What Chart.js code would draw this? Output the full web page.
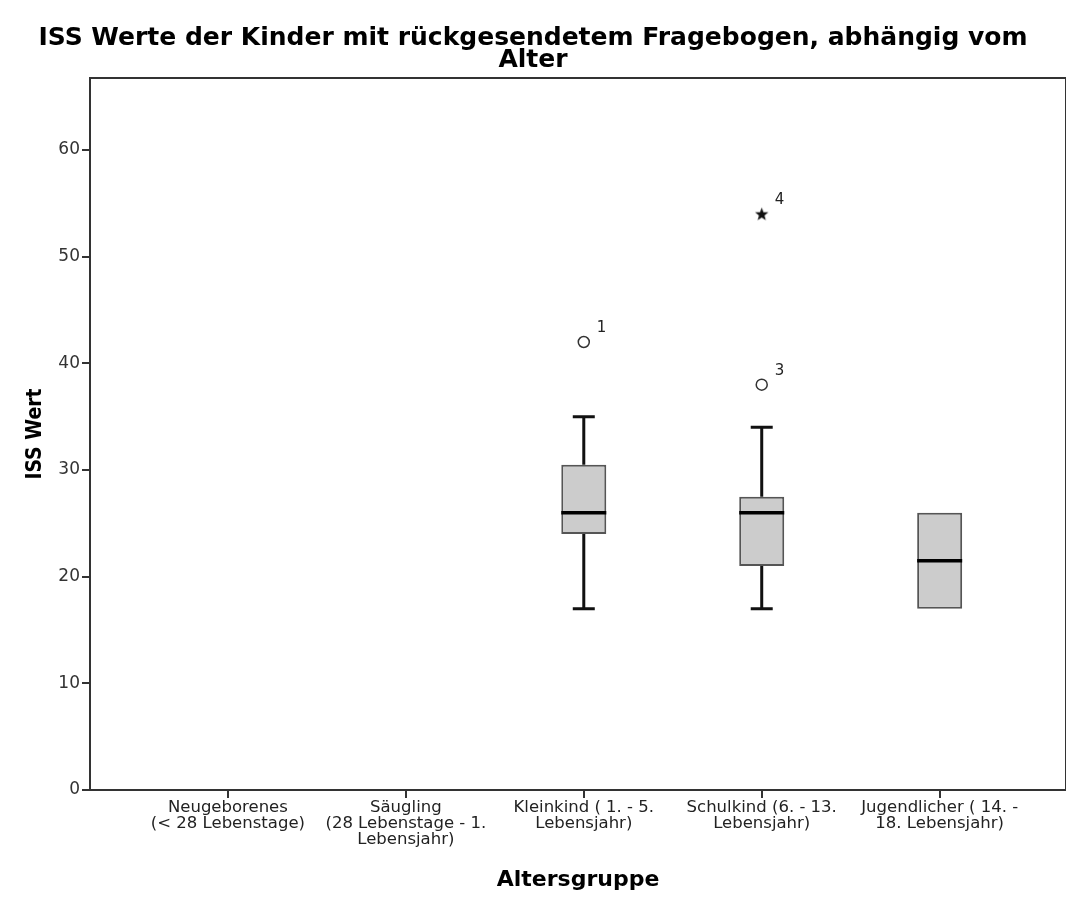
<!DOCTYPE html>
<html>
<head>
<meta charset="utf-8">
<script src="https://cdn.jsdelivr.net/npm/chart.js@4"></script>
<style>
  body { margin: 0; background: #fff; }
  #wrap { width: 1066px; height: 903px; }
</style>
</head>
<body>
<div id="wrap"><canvas id="boxChart" width="1066" height="903"></canvas></div>
<script>
// categories (Altersgruppe)
var categories = [
  ["Neugeborenes", "(< 28 Lebenstage)"],
  ["Säugling", "(28 Lebenstage - 1.", "Lebensjahr)"],
  ["Kleinkind ( 1. - 5.", "Lebensjahr)"],
  ["Schulkind (6. - 13.", "Lebensjahr)"],
  ["Jugendlicher ( 14. -", "18. Lebensjahr)"]
];
// box statistics per category (ISS Wert)
var whiskerLow  = [null, null, 17, 17, 17];
var q1          = [null, null, 24, 21, 17];
var median      = [null, null, 26, 26, 21.5];
var q3          = [null, null, 30.5, 27.5, 26];
var whiskerHigh = [null, null, 35, 34, 26];
// outliers: category index (1-based), value, case number, marker
var outlierCat   = [3, 4, 4];
var outlierValue = [42, 38, 54];
var outlierId    = ["1", "3", "4"];
var outlierKind  = ["circle", "circle", "star"];
var yTicks = [0, 10, 20, 30, 40, 50, 60];

// filled five point star for extreme values
var starImg = document.createElement('canvas');
starImg.width = 15; starImg.height = 15;
(function () {
  var c = starImg.getContext('2d');
  c.fillStyle = '#111';
  c.beginPath();
  for (var k = 0; k < 10; k++) {
    var r = k % 2 === 0 ? 7 : 2.9;
    var a = -Math.PI / 2 + k * Math.PI / 5;
    var px = 7.5 + r * Math.cos(a), py = 8 + r * Math.sin(a);
    if (k === 0) c.moveTo(px, py); else c.lineTo(px, py);
  }
  c.closePath();
  c.fill();
})();

var boxData = categories.map(function (c, i) {
  return { x: i + 1, y: q1[i] === null ? null : [q1[i], q3[i]] };
});
var outlierData = outlierValue.map(function (v, i) {
  return { x: outlierCat[i], y: v };
});

var boxPlugin = {
  id: 'boxParts',
  beforeDatasetsDraw: function (chart) {
    var ctx = chart.ctx, xs = chart.scales.x, ys = chart.scales.y;
    ctx.save();
    ctx.strokeStyle = '#111';
    ctx.lineWidth = 3;
    for (var i = 0; i < categories.length; i++) {
      if (q1[i] === null) continue;
      var x = xs.getPixelForValue(i + 1);
      if (whiskerHigh[i] > q3[i]) {
        ctx.beginPath();
        ctx.moveTo(x, ys.getPixelForValue(q3[i]));
        ctx.lineTo(x, ys.getPixelForValue(whiskerHigh[i]));
        ctx.moveTo(x - 11, ys.getPixelForValue(whiskerHigh[i]));
        ctx.lineTo(x + 11, ys.getPixelForValue(whiskerHigh[i]));
        ctx.stroke();
      }
      if (whiskerLow[i] < q1[i]) {
        ctx.beginPath();
        ctx.moveTo(x, ys.getPixelForValue(q1[i]));
        ctx.lineTo(x, ys.getPixelForValue(whiskerLow[i]));
        ctx.moveTo(x - 11, ys.getPixelForValue(whiskerLow[i]));
        ctx.lineTo(x + 11, ys.getPixelForValue(whiskerLow[i]));
        ctx.stroke();
      }
    }
    ctx.restore();
  },
  afterDatasetsDraw: function (chart) {
    var ctx = chart.ctx, xs = chart.scales.x, ys = chart.scales.y;
    var meta = chart.getDatasetMeta(0);
    ctx.save();
    ctx.strokeStyle = '#000';
    ctx.lineWidth = 3.5;
    for (var i = 0; i < categories.length; i++) {
      if (median[i] === null) continue;
      var bar = meta.data[i];
      var half = bar.width / 2;
      var x = xs.getPixelForValue(i + 1);
      var y = ys.getPixelForValue(median[i]);
      ctx.beginPath();
      ctx.moveTo(x - half, y);
      ctx.lineTo(x + half, y);
      ctx.stroke();
    }
    // case numbers beside outliers
    ctx.fillStyle = '#222';
    ctx.font = '15px "DejaVu Sans"';
    ctx.textAlign = 'left';
    ctx.textBaseline = 'middle';
    var om = chart.getDatasetMeta(1);
    for (var j = 0; j < outlierId.length; j++) {
      var p = om.data[j];
      ctx.fillText(outlierId[j], p.x + 13, p.y - 14);
    }
    // frame around plot
    var a = chart.chartArea;
    ctx.strokeStyle = '#333';
    ctx.lineWidth = 2;
    ctx.beginPath();
    ctx.moveTo(a.left, a.top);
    ctx.lineTo(a.right, a.top);
    ctx.lineTo(a.right, a.bottom);
    ctx.stroke();
    ctx.restore();
  }
};

var ctx = document.getElementById('boxChart').getContext('2d');
var chart = new Chart(ctx, {
  type: 'bar',
  data: {
    datasets: [{
      label: 'Box',
      data: boxData,
      backgroundColor: '#cccccc',
      borderColor: '#555555',
      borderWidth: 2,
      borderSkipped: false,
      barPercentage: 0.253,
      categoryPercentage: 1.0
    }, {
      type: 'scatter',
      label: 'Ausreißer',
      data: outlierData,
      pointStyle: outlierKind.map(function (k) { return k === 'star' ? starImg : 'circle'; }),
      pointRadius: 5.5,
      pointBackgroundColor: '#fff',
      pointBorderColor: '#333',
      pointBorderWidth: 1.5
    }]
  },
  options: {
    responsive: false,
    animation: false,
    layout: { padding: 0, autoPadding: false },
    plugins: {
      legend: { display: false },
      tooltip: { enabled: false },
      title: {
        display: true,
        text: ["ISS Werte der Kinder mit rückgesendetem Fragebogen, abhängig vom", "Alter"],
        color: '#000',
        font: { family: '"DejaVu Sans"', size: 25, weight: 'bold', lineHeight: 0.9 },
        padding: { top: 27, bottom: 6 }
      }
    },
    scales: {
      x: {
        type: 'linear',
        offset: false,
        min: 0.225,
        max: 5.71,
        afterBuildTicks: function (scale) {
          scale.ticks = categories.map(function (c, i) { return { value: i + 1 }; });
        },
        afterFit: function (scale) {
          scale.height = 113;
          scale.paddingLeft = 0;
          scale.paddingRight = 0;
        },
        grid: { display: true, offset: false, drawOnChartArea: false, drawTicks: true, tickLength: 8, color: '#333', lineWidth: 2 },
        border: { display: true, color: '#333', width: 2 },
        ticks: {
          autoSkip: false,
          maxRotation: 0,
          color: '#222',
          padding: 2,
          font: { family: '"DejaVu Sans"', size: 16.5, lineHeight: 0.97 },
          callback: function (v) { return categories[v - 1] || ''; }
        },
        title: {
          display: true,
          text: 'Altersgruppe',
          color: '#000',
          font: { family: '"DejaVu Sans"', size: 22, weight: 'bold' },
          padding: { top: 0, bottom: 10 }
        }
      },
      y: {
        min: 0,
        max: 66.75,
        afterBuildTicks: function (scale) {
          scale.ticks = yTicks.map(function (v) { return { value: v }; });
        },
        afterFit: function (scale) { scale.width = 90; },
        grid: { display: true, drawOnChartArea: false, drawTicks: true, tickLength: 8, color: '#333', lineWidth: 2 },
        border: { display: true, color: '#333', width: 2 },
        ticks: {
          color: '#333',
          padding: 2,
          font: { family: '"DejaVu Sans"', size: 17 }
        },
        title: {
          display: true,
          text: 'ISS Wert',
          color: '#000',
          font: { family: '"DejaVu Sans Condensed", "DejaVu Sans"', size: 21, weight: 'bold' },
          padding: { top: 23, bottom: 0 }
        }
      }
    }
  },
  plugins: [boxPlugin]
});
</script>
</body>
</html>
